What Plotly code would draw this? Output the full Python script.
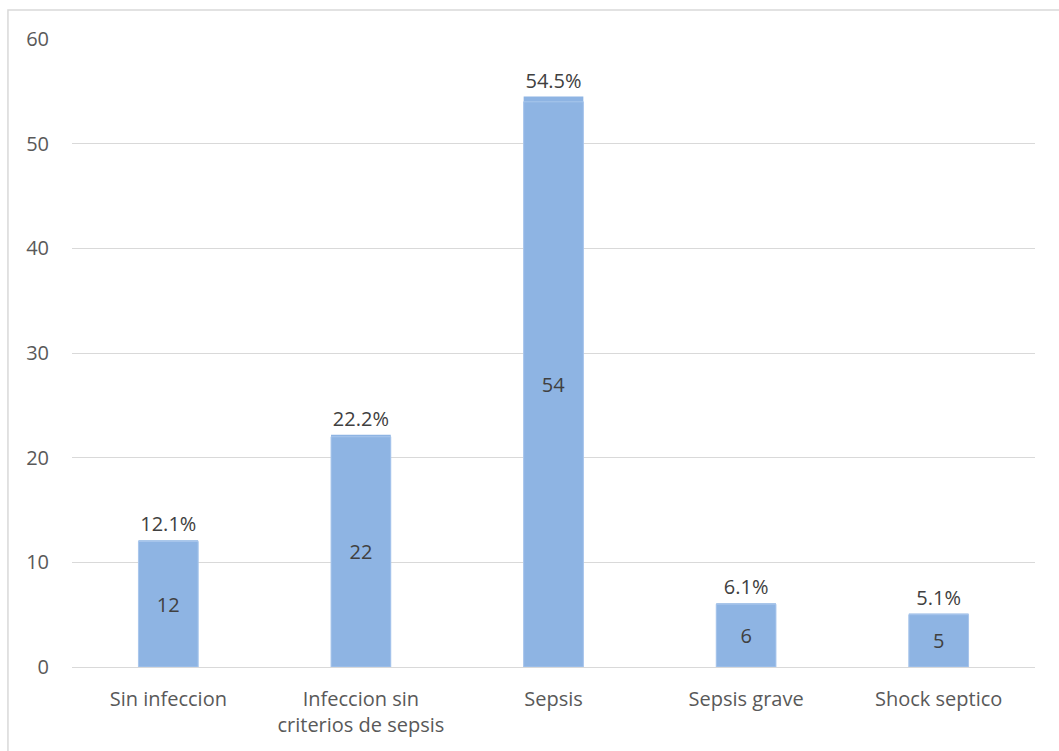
import plotly.graph_objects as go

categories = ["Sin infeccion", "Infeccion sin<br>criterios de sepsis", "Sepsis", "Sepsis grave", "Shock septico"]
counts = [12, 22, 54, 6, 5]
percents = [12.1, 22.2, 54.5, 6.1, 5.1]
y_ticks = [0, 10, 20, 30, 40, 50, 60]

bar_color = "#8eb4e3"
text_color = "#404040"
font_family = "Open Sans, Liberation Sans, sans-serif"
fs = 20

fig = go.Figure()

# Percentage bars (slightly taller) carrying the % labels above
fig.add_trace(go.Bar(
    x=categories, y=percents,
    marker=dict(color=bar_color, line=dict(width=0)),
    text=[f"{p:.1f}%" for p in percents],
    textposition="outside",
    textfont=dict(size=fs, color=text_color, family=font_family),
    cliponaxis=False,
    width=0.31,
    hoverinfo="skip",
))

# Count bars in front, labelled in the middle
fig.add_trace(go.Bar(
    x=categories, y=counts,
    marker=dict(color=bar_color, line=dict(width=1, color="#a9c6ec")),
    text=[str(c) for c in counts],
    textposition="inside",
    insidetextanchor="middle",
    textfont=dict(size=fs, color=text_color, family=font_family),
    width=0.31,
))

fig.update_layout(
    width=1059, height=751,
    margin=dict(l=72, r=24, t=39, b=84),
    paper_bgcolor="white", plot_bgcolor="white",
    barmode="overlay",
    showlegend=False,
    font=dict(family=font_family, size=fs, color="#595959"),
    xaxis=dict(
        showgrid=False, showline=False, ticks="",
        ticklabelstandoff=18,
        tickfont=dict(size=fs, color="#595959"),
    ),
    yaxis=dict(
        range=[0, 60], tickvals=y_ticks,
        showgrid=True, gridcolor="#d9d9d9", gridwidth=1,
        zeroline=True, zerolinecolor="#d9d9d9", zerolinewidth=1,
        showline=False, ticks="", ticklabelstandoff=22,
        tickfont=dict(size=fs, color="#595959"),
    ),
    shapes=[dict(
        type="rect", xref="paper", yref="paper",
        x0=-0.0665, x1=1.2, y0=-0.3, y1=1.0462,
        line=dict(color="#d9d9d9", width=1.5), fillcolor="rgba(0,0,0,0)",
        layer="below",
    )],
)

fig.write_html("out.html")
